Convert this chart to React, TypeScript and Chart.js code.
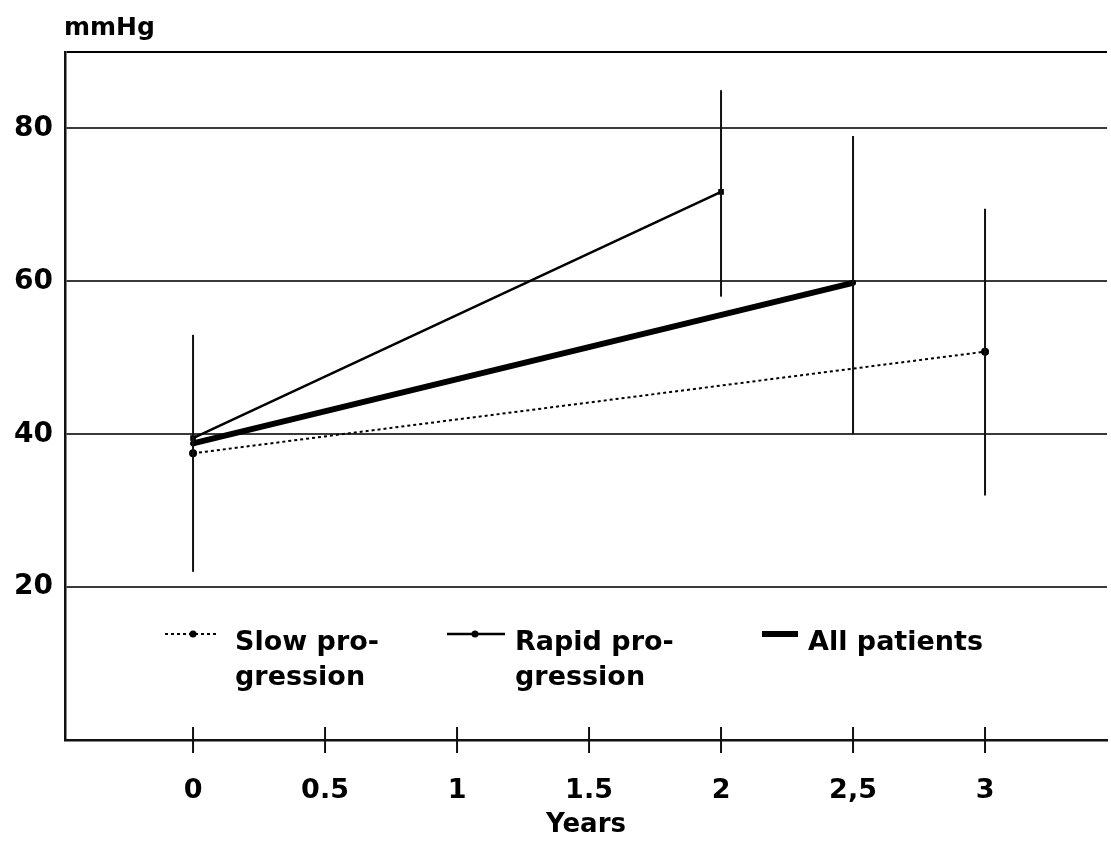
import React, { useEffect, useRef } from "react";
import { Chart, registerables } from "chart.js";

Chart.register(...registerables);

// ---- data ----
const years = [0, 0.5, 1, 1.5, 2, 2.5, 3];
const yearLabels = ["0", "0.5", "1", "1.5", "2", "2,5", "3"];
const yTicks = [20, 40, 60, 80];

const slowX = [0, 3];
const slowY = [37.5, 50.8];
const rapidX = [0, 2];
const rapidY = [39.5, 71.7];
const allX = [0, 2.5];
const allY = [38.8, 59.8];

const errX = [0, 2, 2.5, 3];
const errLow = [22, 58, 40, 32];
const errHigh = [53, 85, 79, 69.5];

const seriesNames = [["Slow pro-", "gression"], ["Rapid pro-", "gression"], ["All patients"]];
const unitLabel = "mmHg";
const xTitle = "Years";

const FONT = '"DejaVu Sans", sans-serif';

const toPts = (xs: number[], ys: number[]) => xs.map((x, i) => ({ x, y: ys[i] }));

const decorPlugin = {
  id: "decor",
  afterDraw(chart: any) {
    const { ctx, chartArea, scales } = chart;
    const x = scales.x;
    const y = scales.y;
    ctx.save();
    ctx.strokeStyle = "#111";
    ctx.lineWidth = 2;
    // x tick marks crossing the axis
    years.forEach((v) => {
      const px = x.getPixelForValue(v);
      ctx.beginPath();
      ctx.moveTo(px, chartArea.bottom - 13);
      ctx.lineTo(px, chartArea.bottom + 13);
      ctx.stroke();
    });
    // error bars
    errX.forEach((v, i) => {
      const px = x.getPixelForValue(v);
      ctx.beginPath();
      ctx.moveTo(px, y.getPixelForValue(errLow[i]));
      ctx.lineTo(px, y.getPixelForValue(errHigh[i]));
      ctx.stroke();
    });
    // unit label
    ctx.fillStyle = "#000";
    ctx.font = `bold 25px ${FONT}`;
    ctx.textAlign = "left";
    ctx.textBaseline = "alphabetic";
    ctx.fillText(unitLabel, 64, 35);

    // legend
    const ly = 634;
    const items = [
      { x0: 165, x1: 218, dot: 193, tx: 235, ds: 0 },
      { x0: 447, x1: 505, dot: 475, tx: 515, ds: 1 },
      { x0: 762, x1: 798, dot: -1, tx: 808, ds: 2 },
    ];
    items.forEach((it) => {
      const d = chart.data.datasets[it.ds];
      ctx.save();
      ctx.strokeStyle = "#000";
      ctx.lineWidth = d.borderWidth;
      ctx.setLineDash(d.borderDash || []);
      ctx.beginPath();
      ctx.moveTo(it.x0, ly);
      ctx.lineTo(it.x1, ly);
      ctx.stroke();
      ctx.restore();
      if (it.dot > 0) {
        ctx.beginPath();
        ctx.arc(it.dot, ly, 3.5, 0, Math.PI * 2);
        ctx.fill();
      }
      ctx.font = `bold 27px ${FONT}`;
      seriesNames[it.ds].forEach((line, li) => {
        ctx.fillText(line, it.tx, 650 + li * 35);
      });
    });
    ctx.restore();
  },
};

export default function App() {
  const ref = useRef<HTMLCanvasElement | null>(null);

  useEffect(() => {
    document.body.style.margin = "0";
    const canvas = ref.current;
    if (!canvas) return;
    const chart = new Chart(canvas, {
      type: "line",
      data: {
        datasets: [
          {
            label: seriesNames[0].join(""),
            data: toPts(slowX, slowY),
            borderColor: "#000",
            backgroundColor: "#000",
            borderWidth: 2,
            borderDash: [3, 3],
            pointRadius: 4,
            pointBackgroundColor: "#000",
            pointBorderWidth: 0,
          },
          {
            label: seriesNames[1].join(""),
            data: toPts(rapidX, rapidY),
            borderColor: "#000",
            backgroundColor: "#000",
            borderWidth: 2.5,
            pointRadius: 4,
            pointStyle: "rect",
            pointBackgroundColor: "#000",
            pointBorderWidth: 0,
          },
          {
            label: seriesNames[2][0],
            data: toPts(allX, allY),
            borderColor: "#000",
            backgroundColor: "#000",
            borderWidth: 6,
            pointRadius: 3,
            pointBackgroundColor: "#000",
            pointBorderWidth: 0,
          },
        ],
      },
      options: {
        animation: false,
        responsive: false,
        devicePixelRatio: 1,
        parsing: true,
        layout: { padding: { top: 52, left: 0, right: 0, bottom: 0 } },
        plugins: { legend: { display: false }, tooltip: { enabled: false } },
        scales: {
          x: {
            type: "linear",
            min: -0.485,
            max: 3.462,
            afterBuildTicks: (s: any) => {
              s.ticks = years.map((v) => ({ value: v }));
            },
            afterFit: (s: any) => {
              s.height = 101;
              s.paddingRight = 0;
              s.paddingLeft = 0;
            },
            grid: { display: true, drawOnChartArea: false, drawTicks: false },
            border: { display: true, color: "#111", width: 2.5 },
            ticks: {
              padding: 35,
              color: "#000",
              font: { family: FONT, size: 27, weight: "bold" },
              maxRotation: 0,
              autoSkip: false,
              callback: (v: any) => {
                const i = years.indexOf(Number(v));
                return i >= 0 ? yearLabels[i] : "";
              },
            },
            title: {
              display: true,
              text: xTitle,
              color: "#000",
              font: { family: FONT, size: 26, weight: "bold" },
              padding: { top: 0, bottom: 0 },
            },
          },
          y: {
            type: "linear",
            min: 0,
            max: 90,
            afterBuildTicks: (s: any) => {
              s.ticks = [0, ...yTicks, 90].map((v) => ({ value: v }));
            },
            afterFit: (s: any) => {
              s.width = 65;
              s.paddingTop = 0;
              s.paddingBottom = 0;
            },
            grid: {
              drawTicks: false,
              lineWidth: 2,
              color: (c: any) =>
                c.tick && c.tick.value === 90 ? "#000" : c.tick && c.tick.value === 0 ? "rgba(0,0,0,0)" : "#3a3a3a",
            },
            border: { display: true, color: "#111", width: 2.5 },
            ticks: {
              padding: 12,
              color: "#000",
              font: { family: FONT, size: 28, weight: "bold" },
              autoSkip: false,
              callback: (v: any) => (yTicks.includes(Number(v)) ? String(v) : ""),
            },
          },
        },
      },
      plugins: [decorPlugin],
    } as any);
    return () => chart.destroy();
  }, []);

  return (
    <div style={{ width: 1111, height: 841, background: "#fff" }}>
      <canvas ref={ref} width={1111} height={841} style={{ display: "block" }} />
    </div>
  );
}
